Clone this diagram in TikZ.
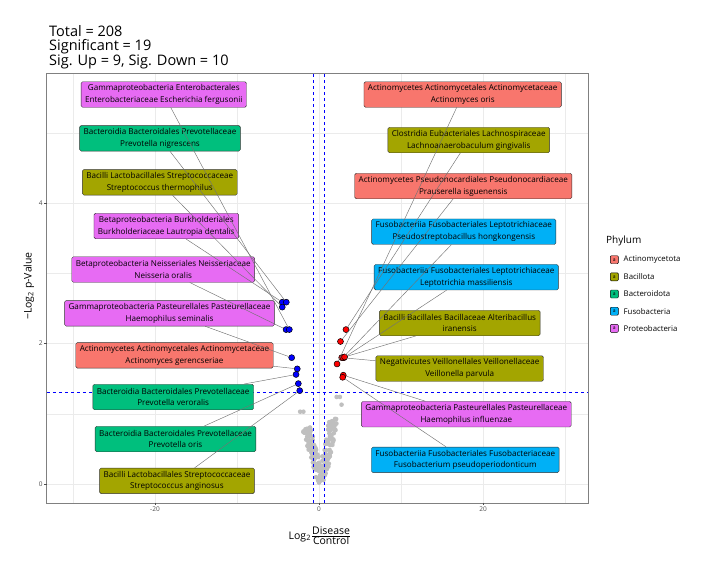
\documentclass[tikz,border=0pt]{standalone}
\usepackage{fontspec}
\setmainfont{Open Sans}
\usepackage{xcolor}
\usetikzlibrary{positioning}

\definecolor{actcol}{HTML}{F8766D}
\definecolor{bacilcol}{HTML}{A3A500}
\definecolor{bactcol}{HTML}{00BF7D}
\definecolor{fusocol}{HTML}{00B0F6}
\definecolor{protcol}{HTML}{E76BF3}
\definecolor{gridcol}{HTML}{EBEBEB}

\tikzset{
  taxon/.style={draw=black!80, rounded corners=1.5pt, align=center,
    font=\fontsize{8.1}{11.8}\selectfont, inner xsep=4pt, inner ysep=1pt,
    minimum height=25.5pt, line width=0.4pt},
  actino/.style={taxon, fill=actcol},
  bacil/.style={taxon, fill=bacilcol},
  bactero/.style={taxon, fill=bactcol},
  fuso/.style={taxon, fill=fusocol},
  proteo/.style={taxon, fill=protcol},
  downpt/.style={circle, draw=black, fill=blue, minimum size=6pt, inner sep=0pt, line width=0.5pt},
  uppt/.style={circle, draw=black, fill=red, minimum size=6pt, inner sep=0pt, line width=0.5pt},
  link/.style={draw=black!55, line width=0.45pt},
  nsig/.style={fill=black!25},
  gridmaj/.style={draw=gridcol, line width=0.5pt},
  gridmin/.style={draw=gridcol, line width=0.25pt},
  cutoff/.style={draw=blue, dashed, line width=0.6pt},
  ticklab/.style={font=\fontsize{6.5}{8}\selectfont, text=black!70, inner sep=1.5pt},
  keybox/.style={draw=black, fill=#1, rounded corners=1pt, minimum size=8pt, inner sep=0pt,
    font=\fontsize{5}{5}\selectfont},
  keylab/.style={font=\fontsize{7.8}{9}\selectfont, anchor=west, inner sep=0pt}
}

\begin{document}
\begin{tikzpicture}[x=1pt, y=-1pt]
\useasboundingbox (0,0) rectangle (720,576);

% Title
\node[anchor=north west, align=left, inner sep=0pt, font=\fontsize{14.5}{14}\selectfont] (head) at (49,25)
  {Total = 208\\Significant = 19\\Sig. Up = 9, Sig. Down = 10};

% Volcano panel, data coordinates
\begin{scope}[shift={(319,484)}, x=8.2pt, y=70.2pt]
  % grid
  \foreach \gx in {-30,-10,10,30} \draw[gridmin] (\gx,-0.27) -- (\gx,5.85);
  \foreach \gy in {1,3,5} \draw[gridmin] (-33.2,\gy) -- (32.9,\gy);
  \foreach \gx in {-20,0,20} \draw[gridmaj] (\gx,-0.27) -- (\gx,5.85);
  \foreach \gy in {0,2,4} \draw[gridmaj] (-33.2,\gy) -- (32.9,\gy);
  % non-significant taxa
  \pgfmathsetseed{208}
  \foreach \i in {1,...,92}{
    \pgfmathsetmacro\yy{0.04+0.78*rnd}
    \pgfmathsetmacro\xx{-2.3*\yy+1.0*rnd-0.2}
    \fill[nsig] (\xx,\yy) circle (2.3pt);
  }
  \foreach \i in {1,...,90}{
    \pgfmathsetmacro\yy{0.03+0.93*rnd}
    \pgfmathsetmacro\xx{1.65*\yy+1.0*rnd-0.25}
    \fill[nsig] (\xx,\yy) circle (2.3pt);
  }
  \foreach \px/\py in {-2.3/1.03, -1.9/1.03, 2.15/1.24, 2.55/1.24, 2.75/1.13, 0/0.02, -0.1/0.05}
    \fill[nsig] (\px,\py) circle (2.3pt);
  % thresholds
  \draw[cutoff] (-0.7,-0.27) -- (-0.7,5.85);
  \draw[cutoff] (0.63,-0.27) -- (0.63,5.85);
  \draw[cutoff] (-33.2,1.301) -- (32.9,1.301);
  % frame and ticks
  \draw[black!50, line width=0.6pt] (-33.2,-0.27) rectangle (32.9,5.85);
  \foreach \tx in {-20,0,20}
    \draw[black!70] (\tx,-0.27) -- ++(0,-2.5pt) node[below, ticklab] {\tx};
  \foreach \ty in {0,2,4}
    \draw[black!70] (-33.2,\ty) -- ++(-2.5pt,0) node[left, ticklab] {\ty};
  % significant taxa
  \node[downpt] (b1) at (-4.48,2.59) {};
  \node[downpt] (b2) at (-3.99,2.59) {};
  \node[downpt] (b3) at (-4.48,2.52) {};
  \node[downpt] (b4) at (-4.02,2.20) {};
  \node[downpt] (b5) at (-3.62,2.20) {};
  \node[downpt] (b6) at (-3.33,1.80) {};
  \node[downpt] (b7) at (-2.65,1.64) {};
  \node[downpt] (b8) at (-2.80,1.56) {};
  \node[downpt] (b9) at (-2.52,1.43) {};
  \node[downpt] (b10) at (-2.35,1.33) {};
  \node[uppt] (r1) at (3.29,2.20) {};
  \node[uppt] (r2) at (2.62,2.03) {};
  \node[uppt] (r3) at (2.77,1.80) {};
  \node[uppt] (r4) at (3.05,1.80) {};
  \node[uppt] (r5) at (2.92,1.80) {};
  \node[uppt] (r6) at (2.20,1.71) {};
  \node[uppt] (r7) at (2.96,1.55) {};
  \node[uppt] (r8) at (2.89,1.52) {};
  \node[uppt] (r9) at (3.12,1.81) {};
\end{scope}

% Labels, decreased taxa
\node[proteo] (L1) at (163.8,94.5) {Gammaproteobacteria Enterobacterales\\Enterobacteriaceae Escherichia fergusonii};
\node[bactero] (L2) at (160,138.3) {Bacteroidia Bacteroidales Prevotellaceae\\Prevotella nigrescens};
\node[bacil] (L3) at (159.8,182.3) {Bacilli Lactobacillales Streptococcaceae\\Streptococcus thermophilus};
\node[proteo] (L4) at (166.3,226) {Betaproteobacteria Burkholderiales\\Burkholderiaceae Lautropia dentalis};
\node[proteo] (L5) at (163.2,269.5) {Betaproteobacteria Neisseriales Neisseriaceae\\Neisseria oralis};
\node[proteo] (L6) at (169.5,313.3) {Gammaproteobacteria Pasteurellales Pasteurellaceae\\Haemophilus seminalis};
\node[actino] (L7) at (174.5,355.3) {Actinomycetes Actinomycetales Actinomycetaceae\\Actinomyces gerencseriae};
\node[bactero] (L8) at (173.2,397) {Bacteroidia Bacteroidales Prevotellaceae\\Prevotella veroralis};
\node[bactero] (L9) at (175.5,439) {Bacteroidia Bacteroidales Prevotellaceae\\Prevotella oris};
\node[bacil] (L10) at (177,480.8) {Bacilli Lactobacillales Streptococcaceae\\Streptococcus anginosus};

% Labels, increased taxa
\node[actino] (R1) at (462.7,94.5) {Actinomycetes Actinomycetales Actinomycetaceae\\Actinomyces oris};
\node[bacil] (R2) at (468.7,140) {Clostridia Eubacteriales Lachnospiraceae\\Lachnoanaerobaculum gingivalis};
\node[actino] (R3) at (463.3,186) {Actinomycetes Pseudonocardiales Pseudonocardiaceae\\Prauserella isguenensis};
\node[fuso] (R4) at (463.8,231.7) {Fusobacteriia Fusobacteriales Leptotrichiaceae\\Pseudostreptobacillus hongkongensis};
\node[fuso] (R5) at (466.3,277.2) {Fusobacteriia Fusobacteriales Leptotrichiaceae\\Leptotrichia massiliensis};
\node[bacil] (R6) at (459.7,323) {Bacilli Bacillales Bacillaceae Alteribacillus\\iranensis};
\node[bacil] (R7) at (459.7,368.5) {Negativicutes Veillonellales Veillonellaceae\\Veillonella parvula};
\node[proteo] (R8) at (466.3,414.2) {Gammaproteobacteria Pasteurellales Pasteurellaceae\\Haemophilus influenzae};
\node[fuso] (R9) at (465.3,459.8) {Fusobacteriia Fusobacteriales Fusobacteriaceae\\Fusobacterium pseudoperiodonticum};

% Connectors
\draw[link] (L1) -- (b5);
\draw[link] (L2) -- (b2);
\draw[link] (L3) -- (b3);
\draw[link] (L4) -- (b1);
\draw[link] (L5) -- (b4);
\draw[link] (L6) -- (b6);
\draw[link] (L7) -- (b7);
\draw[link] (L8) -- (b8);
\draw[link] (L9) -- (b9);
\draw[link] (L10) -- (b10);
\draw[link] (R1) -- (r6);
\draw[link] (R2) -- (r1);
\draw[link] (R3) -- (r2);
\draw[link] (R4) -- (r5);
\draw[link] (R5) -- (r4);
\draw[link] (R6) -- (r9);
\draw[link] (R7) -- (r3);
\draw[link] (R8) -- (r7);
\draw[link] (R9) -- (r8);

% Axis titles
\node[rotate=90, font=\fontsize{10.5}{12}\selectfont] (ylab) at (29,286) {−Log\textsubscript{2} p-Value};
\node[font=\fontsize{10.5}{12}\selectfont] (xlab) at (320,536)
  {Log\textsubscript{2}$\frac{\mbox{Disease}}{\mbox{Control}}$};

% Legend
\node[anchor=west, inner sep=0pt, font=\fontsize{10}{12}\selectfont] (phylum) at (606,241) {Phylum};
\node[keybox=actcol] (k1) at (614.3,259.7) {a};
\node[keybox=bacilcol] (k2) at (614.3,276.8) {a};
\node[keybox=bactcol] (k3) at (614.3,294) {a};
\node[keybox=fusocol] (k4) at (614.3,311.2) {a};
\node[keybox=protcol] (k5) at (614.3,328.4) {a};
\node[keylab, right=5pt of k1] {Actinomycetota};
\node[keylab, right=5pt of k2] {Bacillota};
\node[keylab, right=5pt of k3] {Bacteroidota};
\node[keylab, right=5pt of k4] {Fusobacteria};
\node[keylab, right=5pt of k5] {Proteobacteria};
\end{tikzpicture}
\end{document}
